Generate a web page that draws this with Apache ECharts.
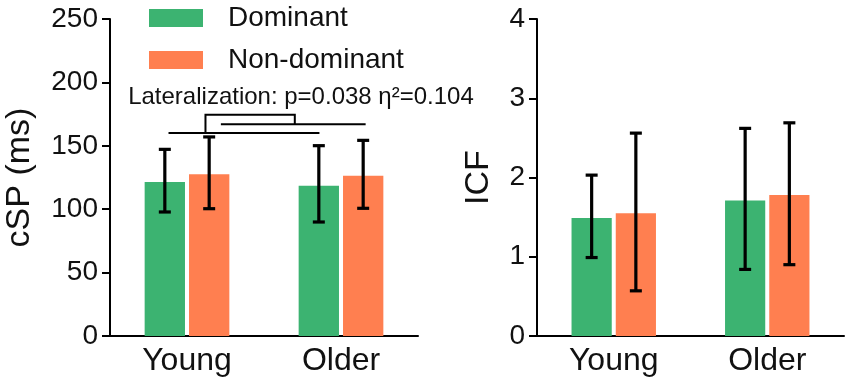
<!DOCTYPE html>
<html>
<head>
<meta charset="utf-8">
<script src="https://cdn.jsdelivr.net/npm/echarts@6/dist/echarts.min.js"></script>
<style>
  html, body { margin: 0; padding: 0; background: #fff; }
  #main { width: 851px; height: 385px; }
</style>
</head>
<body>
<div id="main"></div>
<script>
// data
var categories = ['Young', 'Older'];

var cspDominant = [121.4, 118.5];
var cspNonDominant = [127.5, 126.4];
var cspDomLow = [97.8, 89.9];
var cspDomHigh = [147.2, 150.1];
var cspNonLow = [100.4, 100.7];
var cspNonHigh = [157.0, 154.3];

var icfDominant = [1.49, 1.71];
var icfNonDominant = [1.55, 1.78];
var icfDomLow = [0.99, 0.84];
var icfDomHigh = [2.03, 2.62];
var icfNonLow = [0.57, 0.90];
var icfNonHigh = [2.56, 2.69];

// significance bracket (x in category units, y in ms)
var bracketDomLine = [-0.12, 0.86, 160];
var bracketNonLine = [0.22, 1.16, 167];
var bracketTop = [0.12, 0.70, 174.5];
var annotationText = 'Lateralization: p=0.038 η²=0.104';
var annotationPos = [0.74, 188];

var GREEN = '#3cb371';
var ORANGE = '#ff7f50';
var FONT = 'Liberation Sans, Arial, sans-serif';

function errorData(low, high) {
  var out = [];
  for (var i = 0; i < low.length; i++) out.push([i, low[i], high[i]]);
  return out;
}

// side: -1 dominant bar, +1 non-dominant bar
function errorRender(side) {
  return function (params, api) {
    var idx = api.value(0);
    var lo = api.coord([idx, api.value(1)]);
    var hi = api.coord([idx, api.value(2)]);
    var bw = api.size([1, 0])[0];
    var x = lo[0] + side * bw * 0.144;
    var half = 6;
    var st = { stroke: '#000', lineWidth: 3.2 };
    return {
      type: 'group',
      children: [
        { type: 'line', shape: { x1: x, y1: lo[1], x2: x, y2: hi[1] }, style: st },
        { type: 'line', shape: { x1: x - half, y1: hi[1], x2: x + half, y2: hi[1] }, style: st },
        { type: 'line', shape: { x1: x - half, y1: lo[1], x2: x + half, y2: lo[1] }, style: st }
      ]
    };
  };
}

function errorSeries(name, idx, low, high, side) {
  return {
    type: 'custom',
    name: name + '-err',
    xAxisIndex: idx,
    yAxisIndex: idx,
    z: 5,
    renderItem: errorRender(side),
    encode: { x: 0, y: [1, 2] },
    data: errorData(low, high),
    silent: true
  };
}

function bracketRender(params, api) {
  var c0 = api.coord([0, 0])[0];
  var step = api.coord([1, 0])[0] - c0;
  function px(f) { return c0 + f * step; }
  function py(v) { return api.coord([0, v])[1]; }
  var st = { stroke: '#000', lineWidth: 2 };
  var topY = py(bracketTop[2]);
  return {
    type: 'group',
    children: [
      { type: 'line', shape: { x1: px(bracketDomLine[0]), y1: py(bracketDomLine[2]), x2: px(bracketDomLine[1]), y2: py(bracketDomLine[2]) }, style: st },
      { type: 'line', shape: { x1: px(bracketNonLine[0]), y1: py(bracketNonLine[2]), x2: px(bracketNonLine[1]), y2: py(bracketNonLine[2]) }, style: st },
      { type: 'polyline', shape: { points: [
          [px(bracketTop[0]), py(bracketDomLine[2])],
          [px(bracketTop[0]), topY],
          [px(bracketTop[1]), topY],
          [px(bracketTop[1]), py(bracketNonLine[2])]
        ] }, style: { stroke: '#000', lineWidth: 2, fill: null } },
      { type: 'text', x: px(annotationPos[0]), y: py(annotationPos[1]),
        style: { text: annotationText, font: '24px ' + FONT, fill: '#111', align: 'center', verticalAlign: 'middle' } }
    ]
  };
}

function yAxisCfg(gridIndex, name, max, interval, gap) {
  return {
    type: 'value', gridIndex: gridIndex, min: 0, max: max, interval: interval,
    name: name, nameLocation: 'middle', nameGap: gap,
    nameTextStyle: { fontSize: 34, fontFamily: FONT, color: '#111' },
    axisLine: { show: true, lineStyle: { color: '#000', width: 2 } },
    axisTick: { show: true, length: 8, lineStyle: { color: '#000', width: 2 } },
    axisLabel: { fontSize: 28, fontFamily: FONT, color: '#111', margin: 12 },
    splitLine: { show: false }
  };
}

function xAxisCfg(gridIndex) {
  return {
    type: 'category', gridIndex: gridIndex, data: categories,
    axisLine: { show: true, lineStyle: { color: '#000', width: 2 } },
    axisTick: { show: false },
    axisLabel: { fontSize: 32, fontFamily: FONT, color: '#111', margin: 9 }
  };
}

function barSeries(name, idx, data, color) {
  return {
    type: 'bar', name: name, xAxisIndex: idx, yAxisIndex: idx,
    data: data, barCategoryGap: '45%', barGap: '10%',
    itemStyle: { color: color }, silent: true
  };
}

var chart = echarts.init(document.getElementById('main'));
chart.setOption({
  animation: false,
  backgroundColor: '#fff',
  legend: {
    data: ['Dominant', 'Non-dominant'],
    orient: 'vertical', left: 144, top: -1,
    itemWidth: 54, itemHeight: 18, itemGap: 14, icon: 'rect',
    textStyle: { fontSize: 28, fontFamily: FONT, color: '#111', lineHeight: 28, padding: [0, 0, 0, 20] }
  },
  grid: [
    { left: 110, right: 433, top: 19, bottom: 49 },
    { left: 537, right: 7, top: 19, bottom: 49 }
  ],
  xAxis: [xAxisCfg(0), xAxisCfg(1)],
  yAxis: [yAxisCfg(0, 'cSP (ms)', 250, 50, 73), yAxisCfg(1, 'ICF', 4, 1, 41)],
  series: [
    barSeries('Dominant', 0, cspDominant, GREEN),
    barSeries('Non-dominant', 0, cspNonDominant, ORANGE),
    barSeries('Dominant', 1, icfDominant, GREEN),
    barSeries('Non-dominant', 1, icfNonDominant, ORANGE),
    errorSeries('Dominant', 0, cspDomLow, cspDomHigh, -1),
    errorSeries('Non-dominant', 0, cspNonLow, cspNonHigh, 1),
    errorSeries('Dominant', 1, icfDomLow, icfDomHigh, -1),
    errorSeries('Non-dominant', 1, icfNonLow, icfNonHigh, 1),
    {
      type: 'custom', name: 'bracket', xAxisIndex: 0, yAxisIndex: 0, z: 6,
      renderItem: bracketRender, data: [[0, 0]], silent: true
    }
  ]
});
</script>
</body>
</html>
